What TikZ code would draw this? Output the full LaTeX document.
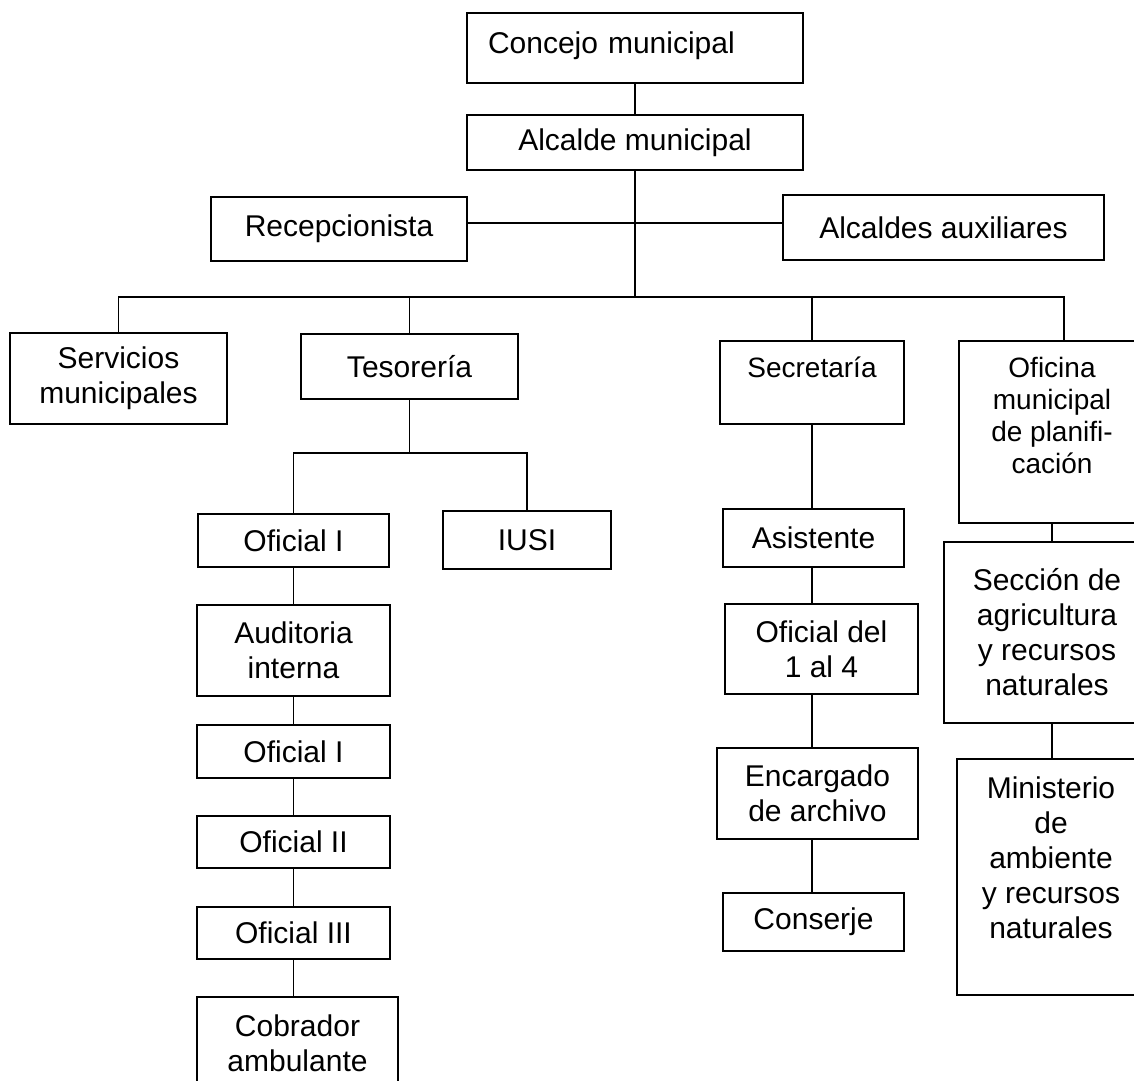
\documentclass[tikz,border=0pt]{standalone}
\usepackage{fontspec}
\setmainfont{Liberation Sans}
\begin{document}
\begin{tikzpicture}[x=1pt, y=-1pt,
  box/.style={draw, line width=1.6pt, inner sep=0pt, align=center},
  big/.style={font=\fontsize{30}{35}\selectfont},
  small/.style={font=\fontsize{28}{32}\selectfont},
  conn/.style={line width=1.6pt}]

  \clip (0,0) rectangle (1134,1080);

  % Top
  \node[box, big, minimum width=336pt, text width=294pt, align=left, text height=40pt, text depth=30pt] (concejo) at (635,48) {Concejo municipal};
  \node[box, big, minimum width=336pt, minimum height=55pt] (alcalde) at (635,142.5) {Alcalde municipal};
  \node[box, big, minimum width=256pt, minimum height=64pt] (recep) at (339,229) {Recepcionista};
  \node[box, big, minimum width=321pt, minimum height=65pt] (auxil) at (943.5,227.5) {Alcaldes auxiliares};

  % Second level
  \node[box, big, minimum width=217pt, minimum height=91pt] (serv) at (118.5,378.5) {Servicios\\municipales};
  \node[box, big, minimum width=217pt, minimum height=65pt] (teso) at (409.5,366.5) {Tesorería};
  \node[box, small, minimum width=184pt, text height=36pt, text depth=47pt] (secr) at (812,382.5) {Secretaría};
  \node[box, small, minimum width=186pt, text height=132pt, text depth=50pt] (ofi) at (1052,432) {Oficina\\municipal\\de planifi-\\cación};

  % Tesoreria
  \node[box, big, minimum width=191pt, minimum height=53pt] (ofa) at (293.5,540.5) {Oficial I};
  \node[box, big, minimum width=168pt, minimum height=58pt] (iusi) at (527,540) {IUSI};
  \node[box, big, minimum width=193pt, minimum height=91pt] (audit) at (293.5,650.5) {Auditoria\\interna};
  \node[box, big, minimum width=193pt, minimum height=53pt] (ofb) at (293.5,751.5) {Oficial I};
  \node[box, big, minimum width=193pt, minimum height=52pt] (ofc) at (293.5,842) {Oficial II};
  \node[box, big, minimum width=193pt, minimum height=52pt] (ofd) at (293.5,933) {Oficial III};
  \node[box, big, minimum width=201pt, minimum height=93pt] (cob) at (297.5,1043.5) {Cobrador\\ambulante};

  % Secretaria
  \node[box, big, minimum width=181pt, minimum height=58pt] (asis) at (813.5,538) {Asistente};
  \node[box, big, minimum width=193pt, minimum height=90pt] (ofdel) at (821.5,649) {Oficial del\\1 al 4};
  \node[box, big, minimum width=201pt, minimum height=91pt] (encar) at (817.5,793.5) {Encargado\\de archivo};
  \node[box, big, minimum width=181pt, minimum height=58pt] (cons) at (813.5,922) {Conserje};

  % Planificacion
  \node[box, big, minimum width=206pt, minimum height=181pt] (secc) at (1047,632.5) {Sección de\\agricultura\\y recursos\\naturales};
  \node[box, big, minimum width=188pt, text height=179pt, text depth=57pt] (minis) at (1051,877) {Ministerio\\de\\ambiente\\y recursos\\naturales};

  % Lines
  \coordinate (busL) at (serv.north |- 0,297);
  \coordinate (busR) at (1064,297);
  \coordinate (tbus) at (0,453);

  \draw[conn] (concejo.south) -- (alcalde.north);
  \draw[conn] (recep.east |- 0,223) -- (auxil.west |- 0,223);
  \draw[conn] (alcalde.south) -- (alcalde.south |- busL);
  \draw[conn] (serv.north) -- (busL) -- (busR) -- (busR |- ofi.north);
  \draw[conn] (teso.north) -- (teso.north |- busL);
  \draw[conn] (secr.north) -- (secr.north |- busL);

  \draw[conn] (teso.south) -- (teso.south |- tbus);
  \draw[conn] (ofa.north) |- (iusi.north |- tbus) -- (iusi.north);
  \foreach \a/\b in {ofa/audit, audit/ofb, ofb/ofc, ofc/ofd, ofd/cob}
    \draw[conn] (\a.south) -- (\a.south |- \b.north);

  \foreach \a/\b in {secr/asis, asis/ofdel, ofdel/encar, encar/cons}
    \draw[conn] (secr.south |- \a.south) -- (secr.south |- \b.north);

  \draw[conn] (ofi.south) -- (ofi.south |- secc.north);
  \draw[conn] (ofi.south |- secc.south) -- (ofi.south |- minis.north);

\end{tikzpicture}
\end{document}
